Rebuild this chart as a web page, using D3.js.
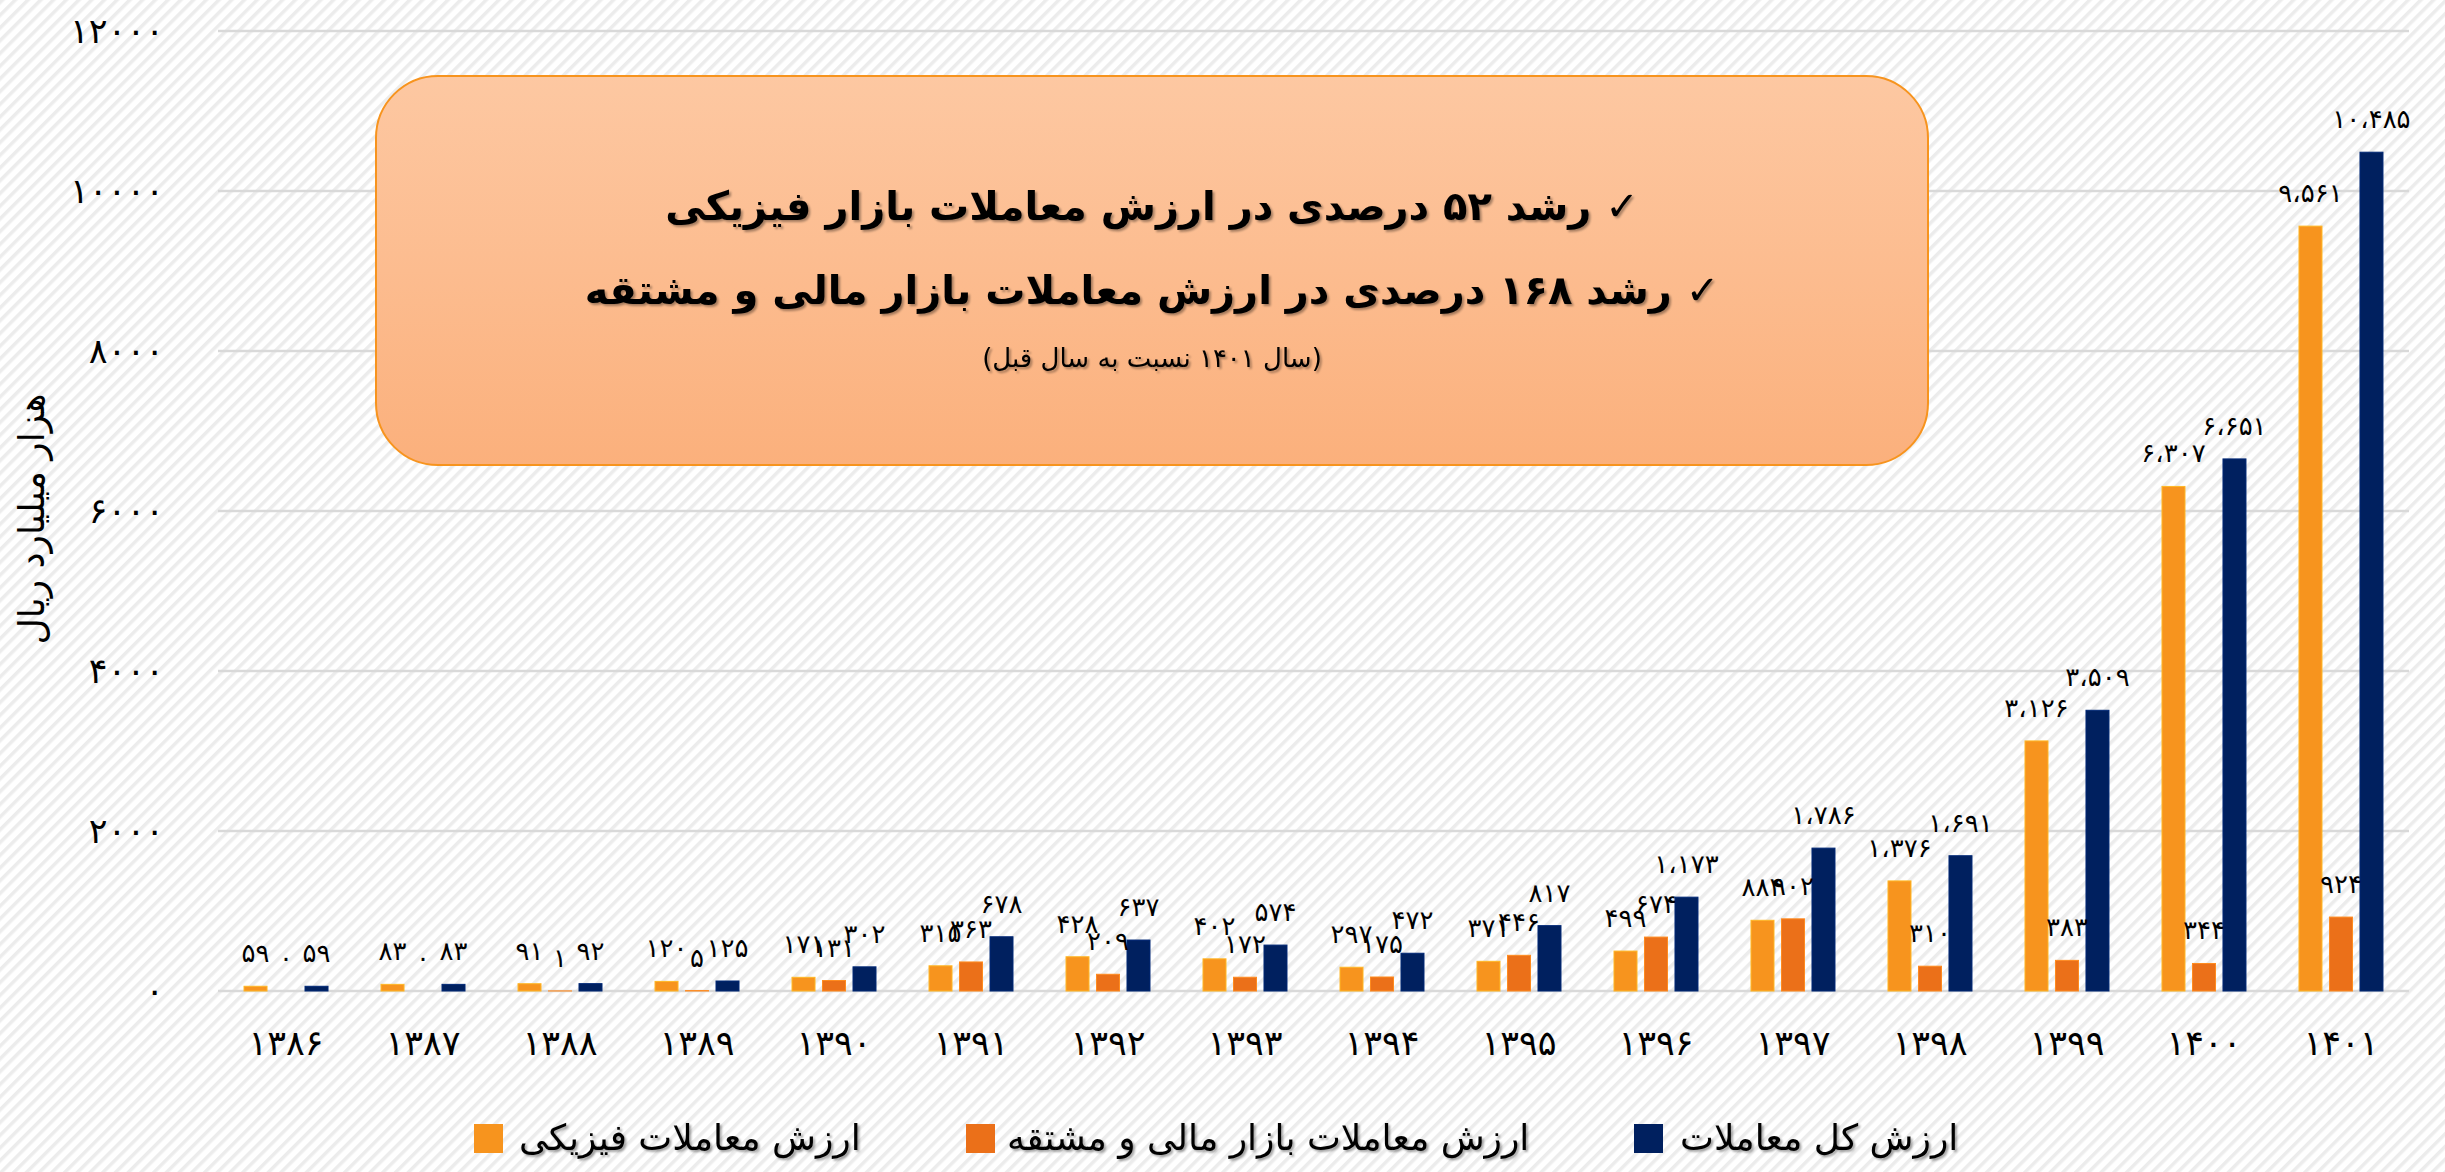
<!DOCTYPE html>
<html>
<head>
<meta charset="utf-8">
<script src="https://cdn.jsdelivr.net/npm/d3@7"></script>
<style>
  body { margin: 0; background: #fff; }
  svg { display: block; }
  text { font-family: "DejaVu Sans", sans-serif; fill: #000; }
</style>
</head>
<body>
<div id="chart"></div>
<script>
// years (Persian calendar)
const years = [1386, 1387, 1388, 1389, 1390, 1391, 1392, 1393, 1394, 1395, 1396, 1397, 1398, 1399, 1400, 1401];
// ارزش معاملات فیزیکی
const physical = [59, 83, 91, 120, 171, 315, 428, 402, 297, 371, 499, 884, 1376, 3126, 6307, 9561];
// ارزش معاملات بازار مالی و مشتقه
const financial = [0, 0, 1, 5, 131, 363, 209, 172, 175, 446, 674, 902, 310, 383, 344, 924];
// ارزش کل معاملات
const total = [59, 83, 92, 125, 302, 678, 637, 574, 472, 817, 1173, 1786, 1691, 3509, 6651, 10485];
const yTicks = [0, 2000, 4000, 6000, 8000, 10000, 12000];
const seriesNames = ["ارزش معاملات فیزیکی", "ارزش معاملات بازار مالی و مشتقه", "ارزش کل معاملات"];
const seriesColors = ["#F7941E", "#EB7019", "#00205F"];
const yTitle = "هزار میلیارد ریال";
const boxLines = [
  "✓ رشد ۵۲ درصدی در ارزش معاملات بازار فیزیکی",
  "✓ رشد ۱۶۸ درصدی در ارزش معاملات بازار مالی و مشتقه",
  "(سال ۱۴۰۱ نسبت به سال قبل)"
];

const W = 2445, H = 1172;
const fa = s => String(s).replace(/\d/g, d => "۰۱۲۳۴۵۶۷۸۹"[d]);
const faNum = v => fa(d3.format(",")(v)).replace(/,/g, "،");

const svg = d3.select("#chart").append("svg").attr("width", W).attr("height", H);
const defs = svg.append("defs");

const pat = defs.append("pattern").attr("id", "stripes")
  .attr("patternUnits", "userSpaceOnUse").attr("width", 9).attr("height", 9)
  .attr("patternTransform", "rotate(45)");
pat.append("rect").attr("width", 9).attr("height", 9).attr("fill", "#fff");
pat.append("rect").attr("width", 3.5).attr("height", 9).attr("fill", "#ececec");
svg.append("rect").attr("width", W).attr("height", H).attr("fill", "url(#stripes)");

const grad = defs.append("linearGradient").attr("id", "boxfill")
  .attr("x1", 0).attr("y1", 0).attr("x2", 0).attr("y2", 1);
grad.append("stop").attr("offset", "0%").attr("stop-color", "#FDC8A2");
grad.append("stop").attr("offset", "100%").attr("stop-color", "#FBB07C");

const shadow = defs.append("filter").attr("id", "tshadow");
shadow.append("feDropShadow").attr("dx", 2).attr("dy", 2).attr("stdDeviation", 0.8)
  .attr("flood-color", "#000").attr("flood-opacity", 0.35);

const x0 = d3.scaleBand().domain(years).range([218, 2409]).paddingInner(0.387).paddingOuter(0.19);
const x1 = d3.scaleBand().domain([0, 1, 2]).range([0, x0.bandwidth()]).paddingInner(0.246);
const y = d3.scaleLinear().domain([0, 12000]).range([991, 31]);

// gridlines
svg.append("g").selectAll("line").data(yTicks).enter().append("line")
  .attr("x1", 218).attr("x2", 2409)
  .attr("y1", d => y(d)).attr("y2", d => y(d))
  .attr("stroke", "#d9d9d9").attr("stroke-width", 2.5);

// y axis labels
const yAxis = svg.append("g").attr("transform", "translate(164,0)")
  .call(d3.axisLeft(y).tickValues(yTicks).tickSize(0).tickPadding(0).tickFormat(fa));
yAxis.select(".domain").remove();
yAxis.selectAll("text").attr("font-size", 35).attr("letter-spacing", 8)
  .style("font-family", "DejaVu Sans").attr("fill", "#000");

// y title
svg.append("text").attr("transform", "translate(44,519) rotate(-90)")
  .attr("text-anchor", "middle").attr("font-size", 36).attr("direction", "rtl")
  .text(yTitle);

// x axis labels
const xAxis = svg.append("g").attr("transform", "translate(0,1030)")
  .call(d3.axisBottom(x0).tickSize(0).tickPadding(0).tickFormat(fa));
xAxis.select(".domain").remove();
xAxis.selectAll("text").attr("font-size", 35).attr("letter-spacing", 3)
  .style("font-family", "DejaVu Sans").attr("fill", "#000");

// bars
const series = [physical, financial, total];
const rows = years.map((yr, i) => ({ yr, vals: series.map(s => s[i]) }));
const grp = svg.append("g").selectAll("g").data(rows).enter().append("g")
  .attr("transform", d => `translate(${x0(d.yr)},0)`);

grp.selectAll("rect").data(d => d.vals.map((v, k) => ({ v, k }))).enter().append("rect")
  .attr("x", d => x1(d.k)).attr("width", x1.bandwidth())
  .attr("y", d => y(d.v)).attr("height", d => y(0) - y(d.v))
  .attr("fill", d => seriesColors[d.k])
  .attr("stroke", d => d3.color(seriesColors[d.k]).brighter(0.6)).attr("stroke-width", 1);

grp.selectAll("text").data(d => d.vals.map((v, k) => ({ v, k }))).enter().append("text")
  .attr("x", d => x1(d.k) + x1.bandwidth() / 2)
  .attr("y", d => y(d.v) - 24)
  .attr("text-anchor", "middle").attr("font-size", 26)
  .text(d => faNum(d.v));

// callout box
const box = svg.append("g");
box.append("rect").attr("x", 376).attr("y", 76).attr("width", 1552).attr("height", 389)
  .attr("rx", 62).attr("ry", 62)
  .attr("fill", "url(#boxfill)").attr("stroke", "#F7941E").attr("stroke-width", 2);
box.selectAll("text").data(boxLines).enter().append("text")
  .attr("x", 1152)
  .attr("y", (d, i) => [220, 304, 367][i])
  .attr("text-anchor", "middle").attr("direction", "rtl")
  .attr("font-size", (d, i) => i < 2 ? 40 : 26)
  .attr("font-weight", (d, i) => i < 2 ? "bold" : "normal")
  .attr("filter", "url(#tshadow)")
  .text(d => d);

// legend
const legendX = [[474, 519], [966, 1007], [1634, 1680]];
const leg = svg.append("g").selectAll("g").data(seriesNames).enter().append("g");
leg.append("rect")
  .attr("x", (d, i) => legendX[i][0]).attr("y", 1124).attr("width", 29).attr("height", 29)
  .attr("fill", (d, i) => seriesColors[i]);
leg.append("text")
  .attr("x", (d, i) => legendX[i][1]).attr("y", 1150)
  .attr("text-anchor", "end").attr("direction", "rtl")
  .attr("font-size", 36).attr("filter", "url(#tshadow)")
  .text(d => d);
</script>
</body>
</html>
